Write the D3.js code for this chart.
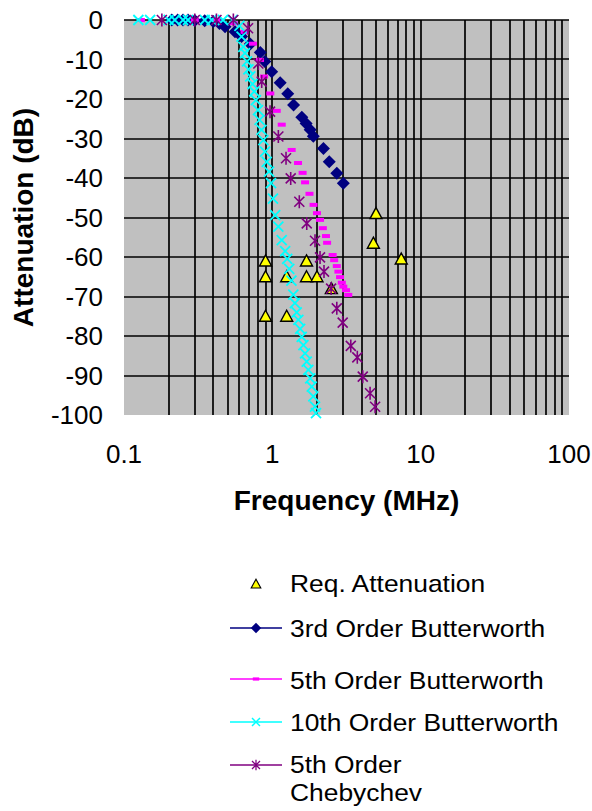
<!DOCTYPE html>
<html>
<head>
<meta charset="utf-8">
<script src="https://cdn.jsdelivr.net/npm/d3@7"></script>
<style>
  body { margin: 0; background: #fff; }
  text { font-family: "Liberation Sans", Arial, sans-serif; fill: #000; }
</style>
</head>
<body>
<svg id="chart" width="592" height="811"></svg>
<script>
// ---- data (frequency in MHz, attenuation in dB) ----
var reqFreq = [0.9, 0.9, 0.9, 1.25, 1.25, 1.7, 1.7, 2.0, 2.5, 5.0, 4.8, 7.4];
var reqAtt  = [-61, -65, -75, -65, -75, -61, -65, -65, -68, -49, -56.5, -60.5];

var bw3Freq = [0.21, 0.23, 0.25, 0.27, 0.3, 0.35, 0.4, 0.44, 0.48, 0.56, 0.62, 0.71,
               0.83, 0.89, 0.99, 1.13, 1.27, 1.39, 1.58, 1.69, 1.80, 1.89, 2.21, 2.42, 2.72, 3.01];
var bw3Att  = [0, 0, 0, 0, -0.1, -0.2, -0.4, -0.9, -1.7, -3.0, -4.2, -6.1,
               -8.2, -10.5, -13.1, -15.9, -18.7, -21.5, -24.6, -26.2, -27.8, -29.4, -32.5, -35.9, -38.8, -41.3];

var bw5Freq = [0.13, 0.3, 0.42, 0.55, 0.65, 0.74, 0.826, 0.88, 0.969, 1.071, 1.157, 1.35, 1.49,
               1.60, 1.662, 1.78, 1.896, 2.0, 2.097, 2.19, 2.30, 2.34, 2.55, 2.61, 2.72, 2.79,
               2.86, 2.94, 3.01, 3.14, 3.25];
var bw5Att  = [0, 0, 0, -0.8, -3, -6, -10.1, -14.3, -18.6, -23, -26.5, -32.9, -36.2,
               -38.7, -41.1, -44, -46.8, -48.9, -50.6, -52.7, -54.7, -56.4, -59.5, -60.8, -62.3, -63.7,
               -65.1, -66.5, -67.5, -68.4, -69.6];

var bw10Freq = [0.125, 0.15, 0.2, 0.22, 0.25, 0.27, 0.35, 0.39, 0.465, 0.54, 0.60, 0.62, 0.637,
                0.654, 0.675, 0.69, 0.71, 0.735, 0.755, 0.775, 0.80, 0.82, 0.845, 0.87, 0.893,
                0.917, 0.95, 0.98, 1.01, 1.045, 1.098, 1.157, 1.22, 1.26, 1.3, 1.345, 1.385,
                1.42, 1.46, 1.497, 1.54, 1.578, 1.62, 1.662, 1.705, 1.749, 1.80, 1.844, 1.89, 1.94, 1.97];
var bw10Att  = [0, 0, 0, 0, 0, 0, 0, 0, 0, 0, -1.5, -4.2, -6.8,
                -8.4, -10.5, -12.5, -14.3, -16.2, -18.1, -20.3, -22.8, -25.3, -27.8, -30.4, -33.3,
                -35.9, -38.4, -41.3, -45.2, -49.4, -52.3, -55.7, -58.5, -60.5, -63, -66, -69.5,
                -71.7, -74, -75.9, -78.2, -80.2, -82.3, -84.4, -86.5, -88.6, -90.7, -92.8, -95.3, -97.9, -99.5];

var chebFreq = [0.18, 0.30, 0.42, 0.546, 0.686, 0.805, 0.848, 0.965, 1.098, 1.237, 1.33, 1.52,
                1.706, 1.94, 2.097, 2.23, 2.49, 2.72, 2.98, 3.38, 3.74, 4.07, 4.56, 4.93];
var chebAtt  = [0, 0, 0, 0, -2.1, -11, -15.6, -23.2, -29.5, -35, -40.1, -46,
                -51.5, -55.9, -60.1, -63.7, -68, -73, -76.6, -82.5, -85.4, -90.3, -94.5, -97.9];

var xTickLabels = [0.1, 1, 10, 100];
var yTickLabels = [0, -10, -20, -30, -40, -50, -60, -70, -80, -90, -100];
var legendNames = ["Req. Attenuation", "3rd Order Butterworth", "5th Order Butterworth",
                   "10th Order Butterworth", "5th Order"];

// ---- layout ----
var plotLeft = 124, plotRight = 569, plotTop = 20, plotBottom = 415;

var svg = d3.select("#chart");

var x = d3.scaleLog().domain([0.1, 100]).range([plotLeft, plotRight]);
var y = d3.scaleLinear().domain([-100, 0]).range([plotBottom, plotTop]);

// plot area
svg.append("rect")
    .attr("x", plotLeft).attr("y", plotTop)
    .attr("width", plotRight - plotLeft).attr("height", plotBottom - plotTop)
    .attr("fill", "#c0c0c0");

// gridlines
var grid = svg.append("g").attr("stroke", "#000").attr("stroke-width", 1.7);
grid.selectAll(".vg")
    .data(x.ticks().filter(function(d){ return d > 0.1 && d < 100; }))
    .enter().append("line")
    .attr("x1", function(d){ return Math.round(x(d)); })
    .attr("x2", function(d){ return Math.round(x(d)); })
    .attr("y1", plotTop).attr("y2", plotBottom);
grid.selectAll(".hg")
    .data(y.ticks(10).filter(function(d){ return d > -100; }))
    .enter().append("line")
    .attr("x1", plotLeft).attr("x2", plotRight)
    .attr("y1", function(d){ return Math.round(y(d)); })
    .attr("y2", function(d){ return Math.round(y(d)); });

// tick labels
svg.append("g").selectAll("text")
    .data(yTickLabels)
    .enter().append("text")
    .attr("x", 103)
    .attr("y", function(d){ return y(d) + 9; })
    .attr("text-anchor", "end")
    .style("font-size", "26px")
    .text(function(d){ return d; });

svg.append("g").selectAll("text")
    .data(xTickLabels)
    .enter().append("text")
    .attr("x", function(d){ return x(d); })
    .attr("y", 463)
    .attr("text-anchor", "middle")
    .style("font-size", "26px")
    .text(function(d){ return d; });

// axis titles
svg.append("text")
    .attr("transform", "translate(33," + ((plotTop + plotBottom) / 2) + ") rotate(-90)")
    .attr("text-anchor", "middle")
    .style("font-size", "28px")
    .style("font-weight", "bold")
    .text("Attenuation (dB)");

svg.append("text")
    .attr("x", (plotLeft + plotRight) / 2)
    .attr("y", 510)
    .attr("text-anchor", "middle")
    .style("font-size", "28px")
    .style("font-weight", "bold")
    .text("Frequency (MHz)");

// ---- marker drawing ----
function drawTriangle(g) {
    g.append("path").attr("d", "M0,-6L6,5L-6,5Z")
        .attr("fill", "#ffff00").attr("stroke", "#000").attr("stroke-width", 1.4);
}
function drawDiamond(g) {
    g.append("path").attr("d", "M0,-6.5L6.5,0L0,6.5L-6.5,0Z").attr("fill", "#000080");
}
function drawDash(g) {
    g.append("rect").attr("x", -4).attr("y", -2).attr("width", 8).attr("height", 4)
        .attr("fill", "#ff00ff");
}
function drawCross(g) {
    g.append("path").attr("d", "M-5,-5L5,5M-5,5L5,-5")
        .attr("stroke", "#00ffff").attr("stroke-width", 1.8).attr("fill", "none");
}
function drawStar(g) {
    g.append("path").attr("d", "M-5,-5L5,5M-5,5L5,-5M0,-6.5L0,6.5")
        .attr("stroke", "#800080").attr("stroke-width", 1.6).attr("fill", "none");
}

function plotSeries(freqs, atts, drawer) {
    var pts = freqs.map(function(f, i){ return [f, atts[i]]; });
    svg.append("g").selectAll("g")
        .data(pts)
        .enter().append("g")
        .attr("transform", function(d){ return "translate(" + x(d[0]) + "," + y(d[1]) + ")"; })
        .each(function(){ drawer(d3.select(this)); });
}

plotSeries(reqFreq, reqAtt, drawTriangle);
plotSeries(bw3Freq, bw3Att, drawDiamond);
plotSeries(bw5Freq, bw5Att, drawDash);
plotSeries(bw10Freq, bw10Att, drawCross);
plotSeries(chebFreq, chebAtt, drawStar);

// ---- legend ----
var legendRows = [
    { name: legendNames[0], y: 584, base: 592, color: null,      draw: drawTriangle },
    { name: legendNames[1], y: 628, base: 637, color: "#000080", draw: drawDiamond },
    { name: legendNames[2], y: 679, base: 689, color: "#ff00ff", draw: drawDash },
    { name: legendNames[3], y: 722, base: 731, color: "#00ffff", draw: drawCross },
    { name: legendNames[4], y: 765, base: 773, color: "#800080", draw: drawStar }
];

var legend = svg.append("g");
legendRows.forEach(function(r){
    if (r.color) {
        legend.append("line")
            .attr("x1", 230).attr("x2", 282)
            .attr("y1", r.y).attr("y2", r.y)
            .attr("stroke", r.color).attr("stroke-width", 1.5);
    }
    var m = legend.append("g").attr("transform", "translate(256," + r.y + ") scale(0.8)");
    r.draw(m);
    legend.append("text")
        .attr("transform", "translate(290," + r.base + ") scale(1.1,1)")
        .style("font-size", "24px")
        .text(r.name);
});
legend.append("text")
    .attr("transform", "translate(290,801) scale(1.1,1)")
    .style("font-size", "24px")
    .text("Chebychev");
</script>
</body>
</html>
